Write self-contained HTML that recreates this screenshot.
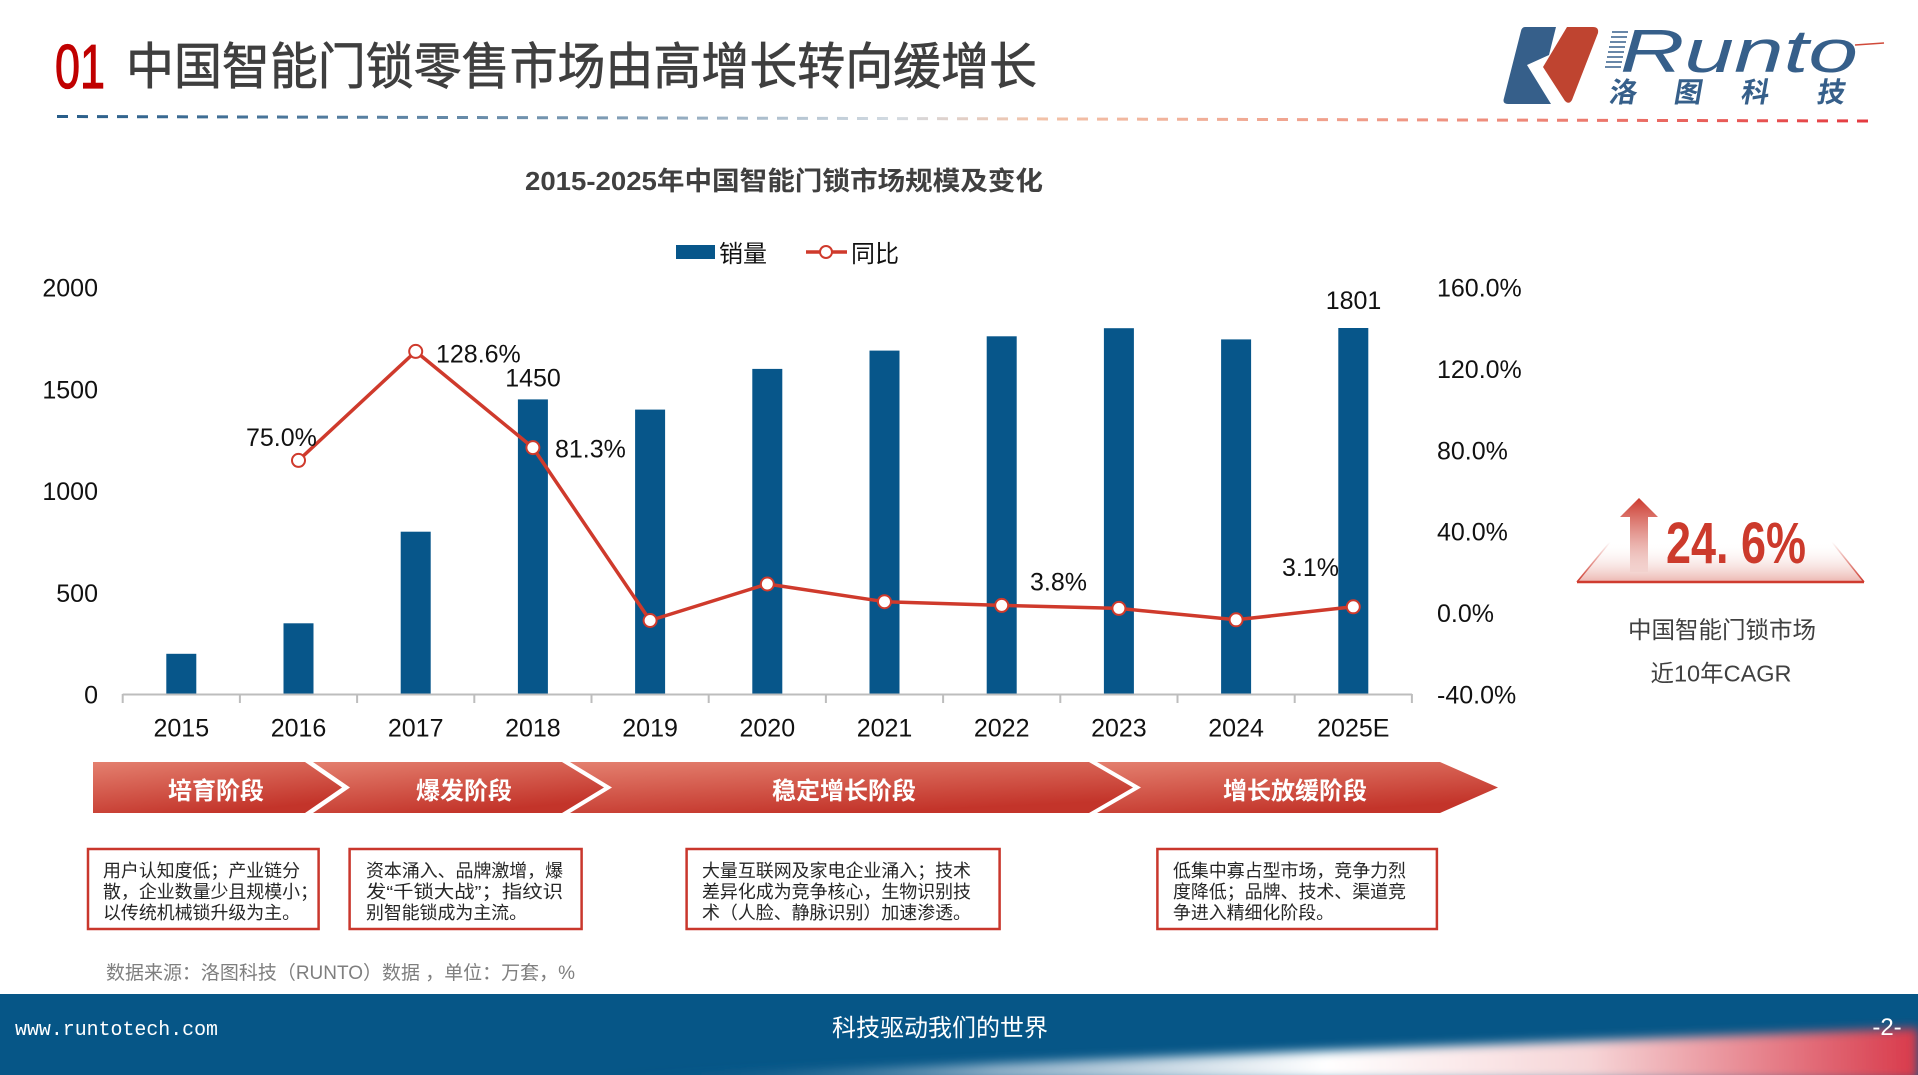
<!DOCTYPE html>
<html><head><meta charset="utf-8"><style>
html,body{margin:0;padding:0;background:#fff;}
svg{display:block;}
</style></head><body>
<svg width="1918" height="1075" viewBox="0 0 1918 1075" xmlns="http://www.w3.org/2000/svg">
<defs>
<linearGradient id="dash" gradientUnits="userSpaceOnUse" x1="57" y1="0" x2="1874" y2="0">
<stop offset="0" stop-color="#285d89"/><stop offset="0.3" stop-color="#7c9ab3"/><stop offset="0.46" stop-color="#d3dbe2"/><stop offset="0.54" stop-color="#f2c2a8"/><stop offset="0.8" stop-color="#ee8a7a"/><stop offset="1" stop-color="#e4393f"/>
</linearGradient>
<linearGradient id="seg" x1="0" y1="0" x2="0.5" y2="1">
<stop offset="0" stop-color="#e4806f"/><stop offset="1" stop-color="#c3342a"/>
</linearGradient>
<linearGradient id="trap" x1="0" y1="0" x2="0" y2="1">
<stop offset="0" stop-color="#ffffff" stop-opacity="0"/><stop offset="1" stop-color="#ecb6b0"/>
</linearGradient>
<linearGradient id="arrowg" x1="0" y1="0" x2="0" y2="1">
<stop offset="0" stop-color="#cc3a2e"/><stop offset="1" stop-color="#f1cfcb" stop-opacity="0.6"/>
</linearGradient>
<linearGradient id="side" x1="0" y1="0" x2="0" y2="1">
<stop offset="0" stop-color="#cf3b2f" stop-opacity="0"/><stop offset="1" stop-color="#cf3b2f"/>
</linearGradient>
<linearGradient id="swoosh" gradientUnits="userSpaceOnUse" x1="600" y1="1075" x2="1918" y2="1045">
<stop offset="0" stop-color="#065687" stop-opacity="0"/><stop offset="0.3" stop-color="#8fb0c8"/><stop offset="0.55" stop-color="#ffffff"/><stop offset="0.75" stop-color="#f6d5d7"/><stop offset="1" stop-color="#d8394a"/>
</linearGradient>
<filter id="blur" x="-10%" y="-50%" width="120%" height="200%"><feGaussianBlur stdDeviation="5"/></filter>
</defs>

<!-- Header -->
<text x="55" y="88" font-family="Liberation Sans, sans-serif" font-size="62" fill="#c00000" stroke="#c00000" stroke-width="1.2" textLength="50" lengthAdjust="spacingAndGlyphs">01</text>
<text x="126" y="84" font-family="Liberation Sans, 'Noto Sans CJK SC', sans-serif" font-size="50" fill="#3f3f3f" stroke="#3f3f3f" stroke-width="0.7" textLength="911" lengthAdjust="spacingAndGlyphs">中国智能门锁零售市场由高增长转向缓增长</text>
<line x1="57" y1="116.5" x2="1874" y2="121" stroke="url(#dash)" stroke-width="3" stroke-dasharray="11 9"/>

<!-- Logo -->
<path d="M1525,27 L1556,27 L1549,55 L1527,65 L1551,104 L1508,104 Q1502,104 1504,98 L1521,31 Q1522,27 1525,27 Z" fill="#365f8a"/>
<path d="M1567,27 L1593,27 Q1599,27 1598,33 L1572,100 Q1569,105 1565,101 L1543,67 Z" fill="#bf4430"/>
<g stroke="#365f8a" stroke-width="1.5">
<line x1="1612" y1="32" x2="1628" y2="32"/><line x1="1611" y1="37" x2="1627" y2="37"/><line x1="1610" y1="42" x2="1626" y2="42"/><line x1="1609" y1="47" x2="1625" y2="47"/><line x1="1608" y1="52" x2="1624" y2="52"/><line x1="1607" y1="57" x2="1623" y2="57"/><line x1="1606" y1="62" x2="1622" y2="62"/><line x1="1605" y1="67" x2="1621" y2="67"/>
</g>
<text x="1620" y="72" font-family="Liberation Sans, sans-serif" font-style="italic" font-size="60" fill="#365f8a" textLength="238" lengthAdjust="spacingAndGlyphs">Runto</text>
<line x1="1855" y1="45" x2="1884" y2="43" stroke="#d04a3a" stroke-width="1.5"/>
<g font-family="Liberation Sans, 'Noto Sans CJK SC', sans-serif" font-weight="bold" font-size="28" fill="#365f8a" text-anchor="middle">
<text x="1622" y="102" transform="skewX(-10) translate(18,0)">洛</text>
<text x="1687" y="102" transform="skewX(-10) translate(18,0)">图</text>
<text x="1754" y="102" transform="skewX(-10) translate(18,0)">科</text>
<text x="1830" y="102" transform="skewX(-10) translate(18,0)">技</text>
</g>

<!-- Chart title -->
<text x="525" y="190" font-family="Liberation Sans, 'Noto Sans CJK SC', sans-serif" font-weight="bold" font-size="26" fill="#404040" textLength="518" lengthAdjust="spacingAndGlyphs">2015-2025年中国智能门锁市场规模及变化</text>

<!-- Legend -->
<rect x="676" y="245" width="39" height="14" fill="#07568a"/>
<text x="719" y="262" font-family="Liberation Sans, 'Noto Sans CJK SC', sans-serif" font-size="24" fill="#111">销量</text>
<line x1="806" y1="252" x2="847" y2="252" stroke="#cf3a2c" stroke-width="3.5"/>
<circle cx="826" cy="252" r="6" fill="#fff" stroke="#cf3a2c" stroke-width="2"/>
<text x="851" y="262" font-family="Liberation Sans, 'Noto Sans CJK SC', sans-serif" font-size="24" fill="#111">同比</text>

<!-- Axes labels -->
<g font-family="Liberation Sans, sans-serif" font-size="25" fill="#111">
<g text-anchor="end">
<text x="98" y="296.5">2000</text>
<text x="98" y="398.3">1500</text>
<text x="98" y="500">1000</text>
<text x="98" y="601.8">500</text>
<text x="98" y="703.5">0</text>
</g>
<text x="1437" y="296.5">160.0%</text>
<text x="1437" y="377.9">120.0%</text>
<text x="1437" y="459.3">80.0%</text>
<text x="1437" y="540.7">40.0%</text>
<text x="1437" y="622.1">0.0%</text>
<text x="1437" y="703.5">-40.0%</text>
<g text-anchor="middle">
<text x="181.3" y="736.5">2015</text>
<text x="298.5" y="736.5">2016</text>
<text x="415.7" y="736.5">2017</text>
<text x="532.9" y="736.5">2018</text>
<text x="650.1" y="736.5">2019</text>
<text x="767.3" y="736.5">2020</text>
<text x="884.5" y="736.5">2021</text>
<text x="1001.7" y="736.5">2022</text>
<text x="1118.9" y="736.5">2023</text>
<text x="1236.1" y="736.5">2024</text>
<text x="1353.3" y="736.5">2025E</text>
</g>
</g>

<!-- Bars -->
<g fill="#07568a">
<rect x="166.3" y="653.8" width="30" height="40.7"/>
<rect x="283.5" y="623.3" width="30" height="71.2"/>
<rect x="400.7" y="531.7" width="30" height="162.8"/>
<rect x="517.9" y="399.4" width="30" height="295.1"/>
<rect x="635.1" y="409.6" width="30" height="284.9"/>
<rect x="752.3" y="368.9" width="30" height="325.6"/>
<rect x="869.5" y="350.6" width="30" height="343.9"/>
<rect x="986.7" y="336.3" width="30" height="358.2"/>
<rect x="1103.9" y="328.2" width="30" height="366.3"/>
<rect x="1221.1" y="339.4" width="30" height="355.1"/>
<rect x="1338.3" y="328" width="30" height="366.5"/>
</g>

<!-- Axis line -->
<g stroke="#bdbdbd" stroke-width="2">
<line x1="122.7" y1="694.5" x2="1412" y2="694.5"/>
<line x1="122.7" y1="694" x2="122.7" y2="703"/><line x1="239.9" y1="694" x2="239.9" y2="703"/><line x1="357.1" y1="694" x2="357.1" y2="703"/><line x1="474.3" y1="694" x2="474.3" y2="703"/><line x1="591.5" y1="694" x2="591.5" y2="703"/><line x1="708.7" y1="694" x2="708.7" y2="703"/><line x1="825.9" y1="694" x2="825.9" y2="703"/><line x1="943.1" y1="694" x2="943.1" y2="703"/><line x1="1060.3" y1="694" x2="1060.3" y2="703"/><line x1="1177.5" y1="694" x2="1177.5" y2="703"/><line x1="1294.7" y1="694" x2="1294.7" y2="703"/><line x1="1411.9" y1="694" x2="1411.9" y2="703"/>
</g>

<!-- Line series -->
<polyline points="298.5,460.4 415.7,351.4 532.9,447.6 650.1,620.5 767.3,584 884.5,601.7 1001.7,605.4 1118.9,608.4 1236.1,619.8 1353.3,606.8" fill="none" stroke="#cf3a2c" stroke-width="3.5" stroke-linejoin="round"/>
<g fill="#fff" stroke="#cf3a2c" stroke-width="2">
<circle cx="298.5" cy="460.4" r="6.5"/><circle cx="415.7" cy="351.4" r="6.5"/><circle cx="532.9" cy="447.6" r="6.5"/><circle cx="650.1" cy="620.5" r="6.5"/><circle cx="767.3" cy="584" r="6.5"/><circle cx="884.5" cy="601.7" r="6.5"/><circle cx="1001.7" cy="605.4" r="6.5"/><circle cx="1118.9" cy="608.4" r="6.5"/><circle cx="1236.1" cy="619.8" r="6.5"/><circle cx="1353.3" cy="606.8" r="6.5"/>
</g>

<!-- Data labels -->
<g font-family="Liberation Sans, sans-serif" font-size="25" fill="#111">
<text x="246" y="446">75.0%</text>
<text x="436" y="362.5">128.6%</text>
<text x="533" y="386.5" text-anchor="middle">1450</text>
<text x="555" y="457.5">81.3%</text>
<text x="1353.5" y="309" text-anchor="middle">1801</text>
<text x="1030" y="590.5">3.8%</text>
<text x="1282" y="576">3.1%</text>
</g>

<!-- Right panel CAGR -->
<polygon points="1577,582 1610,542 1832,542 1864,582" fill="url(#trap)"/>
<line x1="1577" y1="582" x2="1610" y2="542" stroke="url(#side)" stroke-width="1.5"/>
<line x1="1864" y1="582" x2="1832" y2="542" stroke="url(#side)" stroke-width="1.5"/>
<line x1="1577" y1="582" x2="1864" y2="582" stroke="#cf3b2f" stroke-width="2.5"/>
<polygon points="1639,498 1658,517 1648,517 1648,572 1630,572 1630,517 1620,517" fill="url(#arrowg)"/>
<text x="1666" y="563" font-family="Liberation Sans, sans-serif" font-weight="bold" font-size="58" fill="#cc3a2c" textLength="140" lengthAdjust="spacingAndGlyphs">24. 6%</text>
<text x="1722" y="638" text-anchor="middle" font-family="Liberation Sans, 'Noto Sans CJK SC', sans-serif" font-size="23.5" fill="#404040">中国智能门锁市场</text>
<text x="1721" y="681.5" text-anchor="middle" font-family="Liberation Sans, 'Noto Sans CJK SC', sans-serif" font-size="23.5" fill="#404040">近10年CAGR</text>

<!-- Stage band -->
<polygon points="93,762 305,762 342,787.5 305,813 93,813" fill="url(#seg)"/>
<polygon points="313,762 562,762 604,787.5 562,813 313,813 350,787.5" fill="url(#seg)"/>
<polygon points="570,762 1089,762 1133,787.5 1089,813 570,813 612,787.5" fill="url(#seg)"/>
<polygon points="1097,762 1440,762 1498,787.5 1440,813 1097,813 1141,787.5" fill="url(#seg)"/>
<g font-family="Liberation Sans, 'Noto Sans CJK SC', sans-serif" font-weight="bold" font-size="24" fill="#fff" text-anchor="middle">
<text x="216" y="799">培育阶段</text>
<text x="464" y="799">爆发阶段</text>
<text x="844" y="799">稳定增长阶段</text>
<text x="1295" y="799">增长放缓阶段</text>
</g>

<!-- Boxes -->
<g fill="none" stroke="#c9372c" stroke-width="2.5">
<rect x="88" y="849" width="230.6" height="80"/>
<rect x="349.6" y="849" width="232" height="80"/>
<rect x="686.6" y="849" width="313" height="80"/>
<rect x="1157.4" y="849" width="279.5" height="80"/>
</g>
<g font-family="Liberation Sans, 'Noto Sans CJK SC', sans-serif" font-size="17.9" fill="#262626">
<text x="103" y="877" textLength="197" lengthAdjust="spacingAndGlyphs">用户认知度低；产业链分</text>
<text x="103" y="898" textLength="215" lengthAdjust="spacingAndGlyphs">散，企业数量少且规模小；</text>
<text x="103" y="919" textLength="197" lengthAdjust="spacingAndGlyphs">以传统机械锁升级为主。</text>
<text x="366" y="877" textLength="197" lengthAdjust="spacingAndGlyphs">资本涌入、品牌激增，爆</text>
<text x="366" y="898" textLength="197" lengthAdjust="spacingAndGlyphs">发“千锁大战”；指纹识</text>
<text x="366" y="919" textLength="161" lengthAdjust="spacingAndGlyphs">别智能锁成为主流。</text>
<text x="702" y="877" textLength="269" lengthAdjust="spacingAndGlyphs">大量互联网及家电企业涌入；技术</text>
<text x="702" y="898" textLength="269" lengthAdjust="spacingAndGlyphs">差异化成为竞争核心，生物识别技</text>
<text x="702" y="919" textLength="269" lengthAdjust="spacingAndGlyphs">术（人脸、静脉识别）加速渗透。</text>
<text x="1173" y="877" textLength="233" lengthAdjust="spacingAndGlyphs">低集中寡占型市场，竞争力烈</text>
<text x="1173" y="898" textLength="233" lengthAdjust="spacingAndGlyphs">度降低；品牌、技术、渠道竞</text>
<text x="1173" y="919" textLength="161" lengthAdjust="spacingAndGlyphs">争进入精细化阶段。</text>
</g>

<!-- Source -->
<text x="106" y="979" font-family="Liberation Sans, 'Noto Sans CJK SC', sans-serif" font-size="19" fill="#7f7f7f" textLength="469" lengthAdjust="spacingAndGlyphs">数据来源：洛图科技（RUNTO）数据 ，单位：万套，%</text>

<!-- Footer -->
<rect x="0" y="994" width="1918" height="81" fill="#065687"/>
<polygon points="560,1080 1918,1028 1918,1080" fill="url(#swoosh)" filter="url(#blur)"/>
<text x="15" y="1035" font-family="Liberation Mono, monospace" font-size="20" fill="#fff" textLength="203" lengthAdjust="spacingAndGlyphs">www.runtotech.com</text>
<text x="940" y="1036" text-anchor="middle" font-family="Liberation Sans, 'Noto Sans CJK SC', sans-serif" font-size="24" fill="#fff">科技驱动我们的世界</text>
<text x="1887" y="1035" text-anchor="middle" font-family="Liberation Sans, sans-serif" font-size="24" fill="#fff">-2-</text>
</svg>
</body></html>
